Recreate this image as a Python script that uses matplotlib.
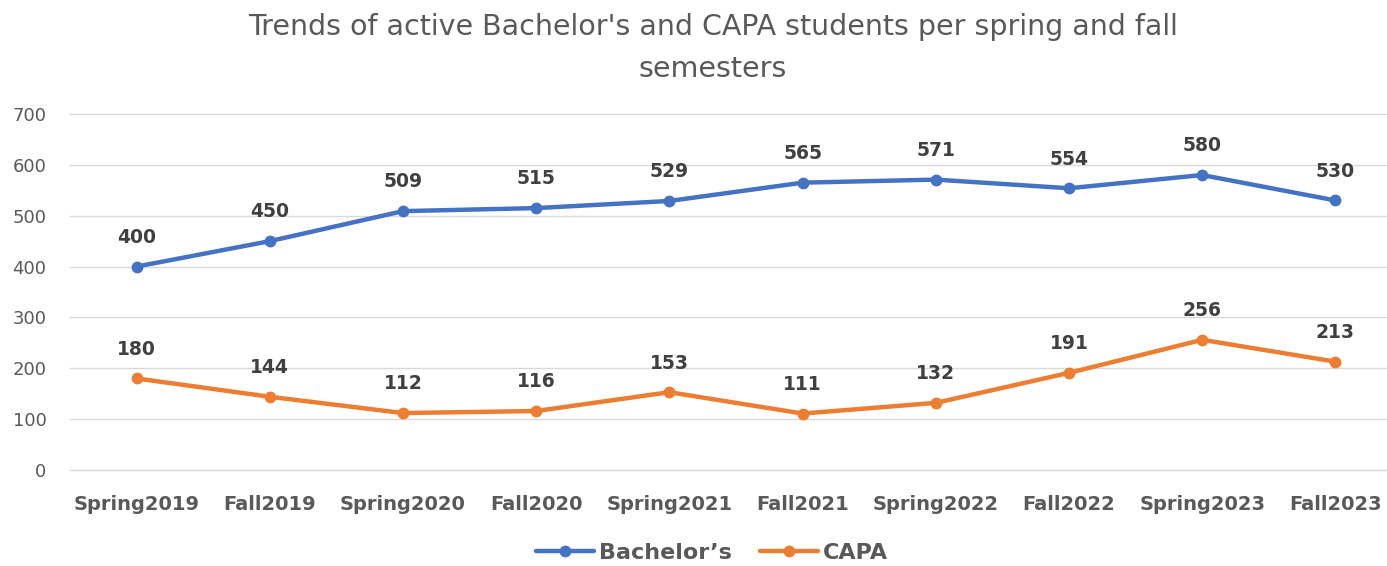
import matplotlib
matplotlib.use("Agg")
import matplotlib.pyplot as plt

categories = ["Spring2019", "Fall2019", "Spring2020", "Fall2020", "Spring2021",
              "Fall2021", "Spring2022", "Fall2022", "Spring2023", "Fall2023"]
bachelors = [400, 450, 509, 515, 529, 565, 571, 554, 580, 530]
capa = [180, 144, 112, 116, 153, 111, 132, 191, 256, 213]
yticks = [0, 100, 200, 300, 400, 500, 600, 700]

W, H = 1387, 566
fig = plt.figure(figsize=(W / 100, H / 100), dpi=100)
ax = fig.add_axes([70 / W, 1 - 470 / H, 1332 / W, (470 - 114) / H])

x = list(range(len(categories)))
blue, orange = "#4472C4", "#ED7D31"
ax.plot(x, bachelors, color=blue, lw=3.2, marker="o", ms=7.5, label="Bachelor\u2019s", solid_capstyle="round")
ax.plot(x, capa, color=orange, lw=3.2, marker="o", ms=7.5, label="CAPA", solid_capstyle="round")

for xi, v in zip(x, bachelors):
    ax.annotate(str(v), (xi, v), xytext=(0, 21), textcoords="offset points",
                ha="center", va="center", fontsize=13.5, fontweight="bold", color="#404040")
for xi, v in zip(x, capa):
    ax.annotate(str(v), (xi, v), xytext=(0, 21), textcoords="offset points",
                ha="center", va="center", fontsize=13.5, fontweight="bold", color="#404040")

ax.set_xlim(-0.5, len(categories) - 0.5)
ax.set_ylim(0, 700)
ax.set_yticks(yticks)
ax.set_xticks(x)
ax.set_xticklabels(categories, fontsize=14, fontweight="bold", color="#595959")
ax.tick_params(axis="y", labelsize=13, labelcolor="#595959", length=0, pad=17)
ax.tick_params(axis="x", length=0, pad=18)
ax.grid(axis="y", color="#D9D9D9", lw=1)
for gl in ax.get_ygridlines():
    gl.set_clip_on(False)
ax.set_axisbelow(True)
for s in ax.spines.values():
    s.set_visible(False)

fig.text(713 / W, 1 - 48 / H, "Trends of active Bachelor's and CAPA students per spring and fall\nsemesters",
         ha="center", va="center", fontsize=20.5, color="#595959", linespacing=1.62)

leg = fig.legend(loc="center", bbox_to_anchor=(712 / W, 1 - 553 / H), ncol=2, frameon=False,
                 prop={"size": 16, "weight": "bold"}, handlelength=2.6, columnspacing=1.3, handletextpad=0.2)
for t in leg.get_texts():
    t.set_color("#595959")

fig.savefig("out.png", dpi=100)
